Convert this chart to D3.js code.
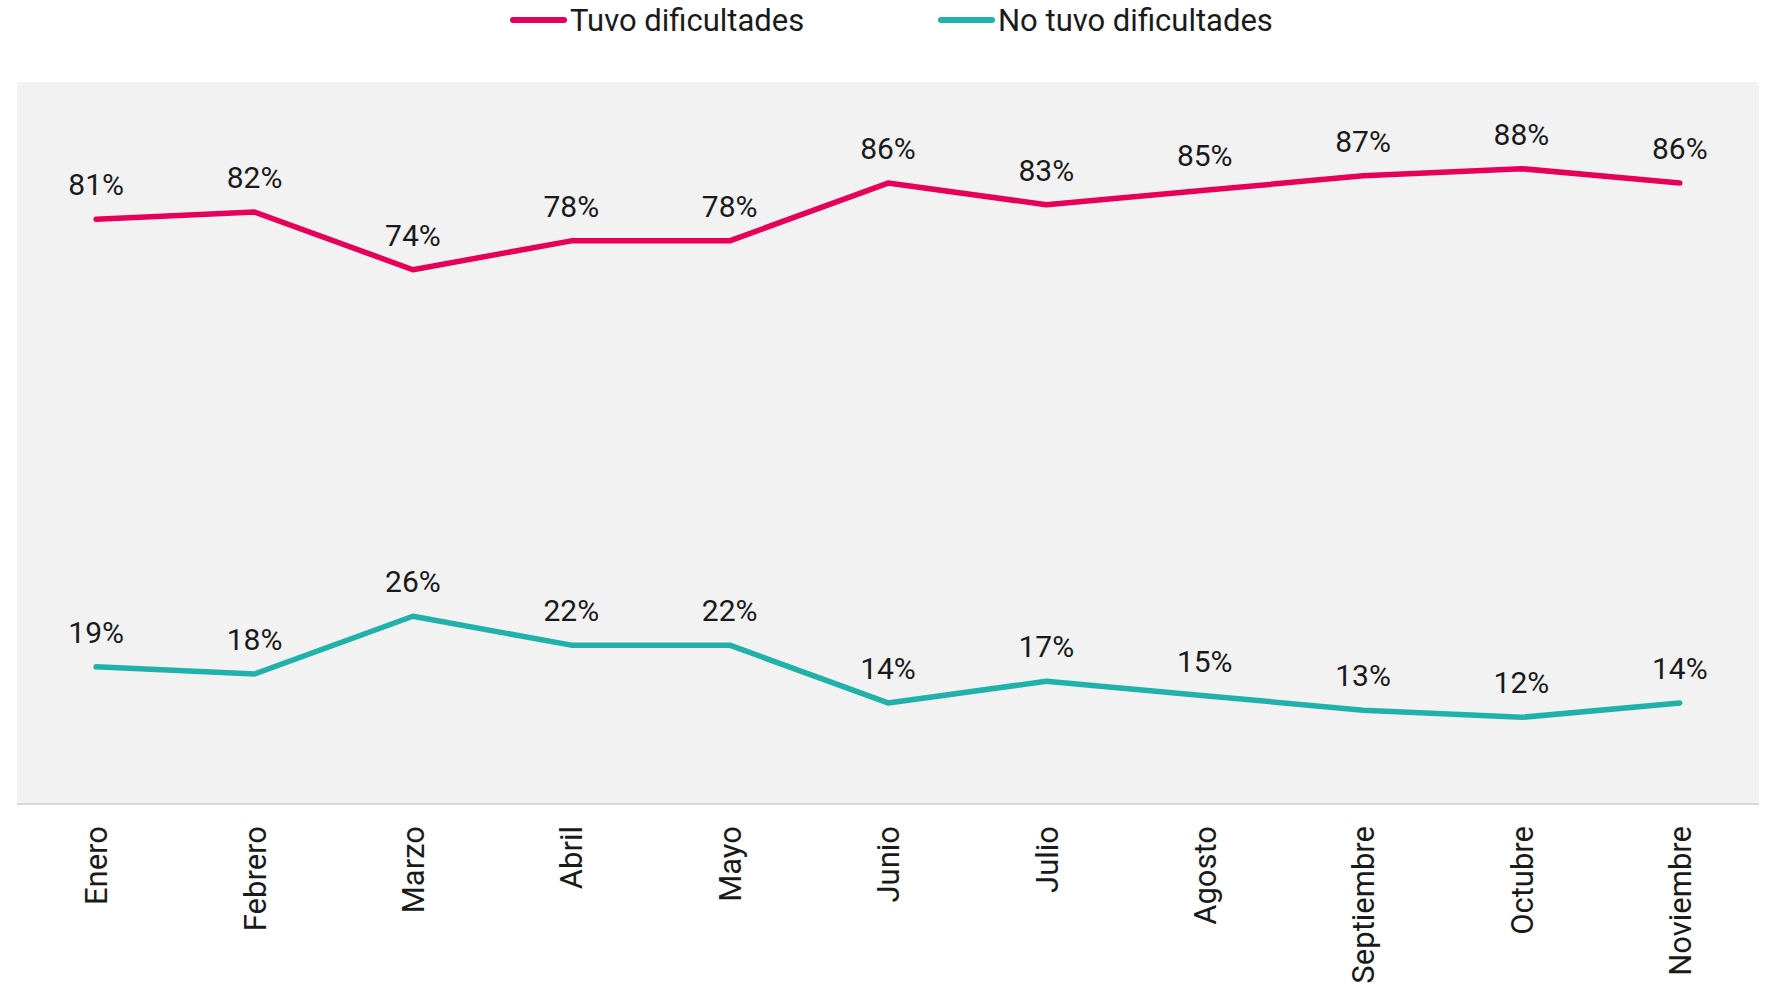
<!DOCTYPE html>
<html>
<head>
<meta charset="utf-8">
<script src="https://cdn.jsdelivr.net/npm/d3@7"></script>
<style>
  body { margin: 0; background: #fff; }
  text { font-family: Roboto, "Noto Sans", sans-serif; fill: #1a1a1a; }
</style>
</head>
<body>
<script>
// chart size
const w = 1767;
const h = 992;

// data
const months = ["Enero", "Febrero", "Marzo", "Abril", "Mayo", "Junio", "Julio", "Agosto", "Septiembre", "Octubre", "Noviembre"];
const tuvo = [81, 82, 74, 78, 78, 86, 83, 85, 87, 88, 86];
const noTuvo = [19, 18, 26, 22, 22, 14, 17, 15, 13, 12, 14];
const seriesNames = ["Tuvo dificultades", "No tuvo dificultades"];
const seriesColors = ["#e6005a", "#20b2aa"];

// plot box
const plotLeft = 17, plotRight = 1759, plotTop = 82, plotBottom = 804;

var svg = d3.select("body")
  .append("svg")
  .attr("width", w)
  .attr("height", h);

var x = d3.scalePoint()
  .domain(months)
  .range([plotLeft, plotRight])
  .padding(0.5);

var y = d3.scaleLinear()
  .domain([0, 100])
  .range([plotBottom, plotTop]);

// grey background
svg.append("rect")
  .attr("x", plotLeft)
  .attr("y", plotTop)
  .attr("width", plotRight - plotLeft)
  .attr("height", plotBottom - plotTop)
  .attr("fill", "#f2f2f2");

// baseline
svg.append("line")
  .attr("x1", plotLeft).attr("x2", plotRight)
  .attr("y1", y(0)).attr("y2", y(0))
  .attr("stroke", "#d9d9d9")
  .attr("stroke-width", 2);

// month labels, rotated
svg.selectAll(".month")
  .data(months)
  .enter()
  .append("text")
  .attr("class", "month")
  .attr("transform", function(d) { return "translate(" + x(d) + "," + (plotBottom + 22) + ") rotate(-90)"; })
  .attr("text-anchor", "end")
  .attr("dy", "0.36em")
  .style("font-size", "31px")
  .text(function(d) { return d; });

var line = d3.line()
  .x(function(d, i) { return x(months[i]); })
  .y(function(d) { return y(d); });

[tuvo, noTuvo].forEach(function(vals, k) {
  svg.append("path")
    .datum(vals)
    .attr("d", line)
    .attr("fill", "none")
    .attr("stroke", seriesColors[k])
    .attr("stroke-width", 5.5)
    .attr("stroke-linecap", "round")
    .attr("stroke-linejoin", "round");

  svg.selectAll(".lbl" + k)
    .data(vals)
    .enter()
    .append("text")
    .attr("class", "lbl" + k)
    .attr("x", function(d, i) { return x(months[i]); })
    .attr("y", function(d) { return y(d) - 24; })
    .attr("text-anchor", "middle")
    .style("font-size", "30px")
    .text(function(d) { return d + "%"; });
});

// legend
var legendX = [513, 941];
seriesNames.forEach(function(name, k) {
  var g = svg.append("g").attr("transform", "translate(" + legendX[k] + ",20)");
  g.append("line")
    .attr("x1", 0).attr("x2", 51)
    .attr("y1", 0).attr("y2", 0)
    .attr("stroke", seriesColors[k])
    .attr("stroke-width", 6)
    .attr("stroke-linecap", "round");
  g.append("text")
    .attr("x", 57)
    .attr("y", 11)
    .style("font-size", "31px")
    .text(name);
});
</script>
</body>
</html>
